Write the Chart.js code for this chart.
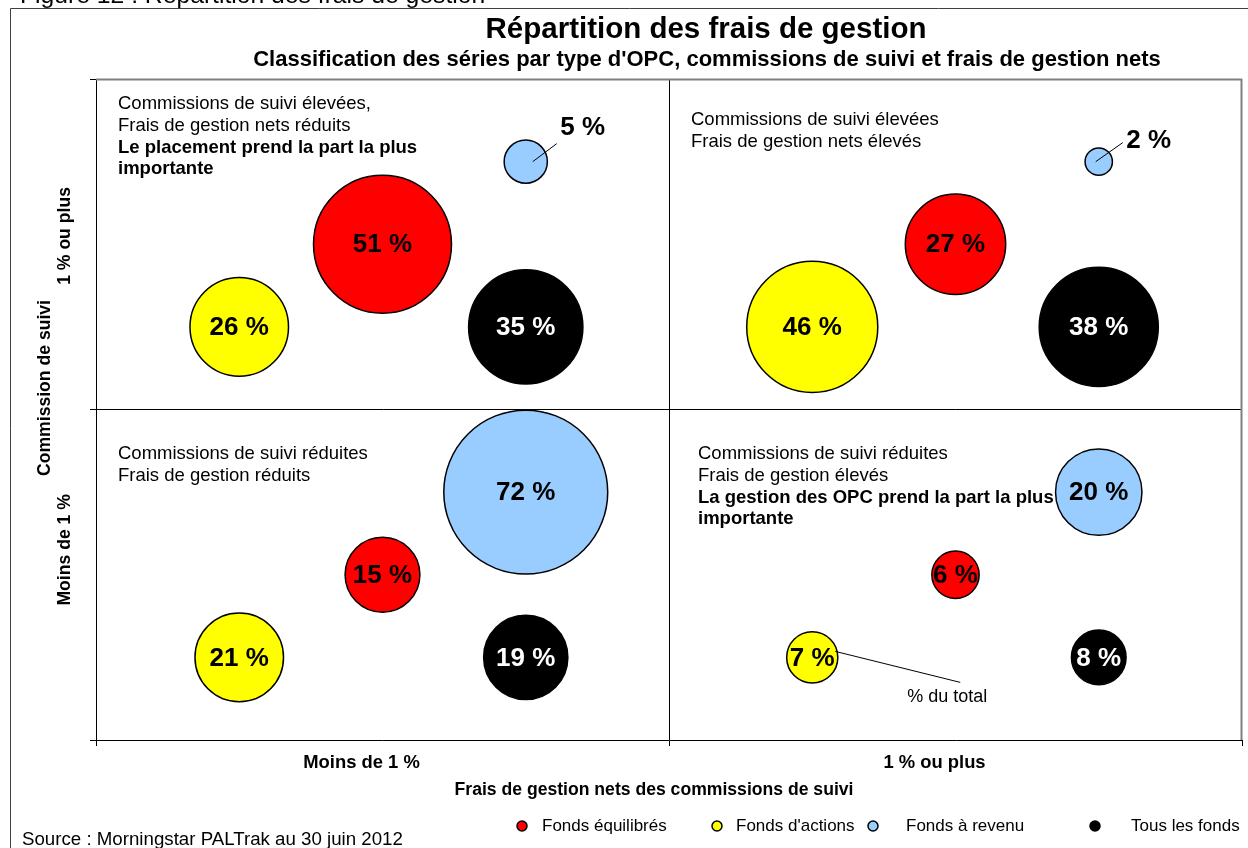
<!DOCTYPE html>
<html>
<head>
<meta charset="utf-8">
<script src="https://cdn.jsdelivr.net/npm/chart.js@4/dist/chart.umd.min.js"></script>
<style>
  html, body { margin: 0; padding: 0; background: #fff; overflow: hidden; }
  canvas { display: block; }
</style>
</head>
<body>
<canvas id="c" width="1248" height="848"></canvas>
<script>
// ---------------- DATA ----------------
// x : Frais de gestion nets des commissions de suivi ; y : Commission de suivi
const feeCategories = ['Moins de 1 %', '1 % ou plus'];       // x-axis tick labels
const trailerCategories = ['Moins de 1 %', '1 % ou plus'];   // y-axis tick labels
// quadrant cells : [haut-gauche, haut-droite, bas-gauche, bas-droite]
const cellFee     = [0, 1, 0, 1];
const cellTrailer = [1, 1, 0, 0];
const seriesNames = ['Fonds équilibrés', "Fonds d'actions", 'Fonds à revenu', 'Tous les fonds'];
const fondsEquilibres = [51, 27, 15, 6];
const fondsActions    = [26, 46, 21, 7];
const fondsRevenu     = [5, 2, 72, 20];
const tousLesFonds    = [35, 38, 19, 8];
const quadrantTexts = [
  { lines: ['Commissions de suivi élevées,', 'Frais de gestion nets réduits'], bold: ['Le placement prend la part la plus', 'importante'] },
  { lines: ['Commissions de suivi élevées', 'Frais de gestion nets élevés'], bold: [] },
  { lines: ['Commissions de suivi réduites', 'Frais de gestion réduits'], bold: [] },
  { lines: ['Commissions de suivi réduites', 'Frais de gestion élevés'], bold: ['La gestion des OPC prend la part la plus', 'importante'] }
];

// ---------------- STYLE / LAYOUT ----------------
const FONT = "'Liberation Sans', Arial, sans-serif";
const K = 9.66;                         // bubble radius = K * sqrt(%)
const seriesColors = ['#FF0000', '#FFFF00', '#99CCFF', '#000000'];
const labelColors  = ['#000', '#000', '#000', '#fff'];
const cellOffsets  = [[0.5, 0.5], [0.25, 0.25], [0.75, 0.75], [0.75, 0.25]];
const yLabelAnchors = [0.744, 1.673];

const seriesValues = [fondsEquilibres, fondsActions, fondsRevenu, tousLesFonds];

function points(values, off) {
  return values.map((v, i) => ({
    x: cellFee[i] + off[0],
    y: cellTrailer[i] + off[1],
    r: K * Math.sqrt(v),
    v: v
  }));
}

const datasets = seriesValues.map((vals, s) => ({
  label: seriesNames[s],
  data: points(vals, cellOffsets[s]),
  backgroundColor: seriesColors[s],
  borderColor: '#000',
  borderWidth: 1.5
}));

function txt(ctx, s, x, y, font, color, align, base) {
  ctx.font = font;
  ctx.fillStyle = color || '#000';
  ctx.textAlign = align || 'left';
  ctx.textBaseline = base || 'middle';
  ctx.fillText(s, x, y);
}
function line(ctx, x1, y1, x2, y2, color, w) {
  ctx.beginPath();
  ctx.strokeStyle = color; ctx.lineWidth = w;
  ctx.moveTo(x1, y1); ctx.lineTo(x2, y2); ctx.stroke();
}

const overlay = {
  id: 'overlay',
  beforeDraw(chart) {
    const ctx = chart.ctx;
    ctx.save();
    ctx.fillStyle = '#fff';
    ctx.fillRect(0, 0, chart.width, chart.height);
    txt(ctx, 'Figure 12 : Répartition des frais de gestion', 20, 3, '24.7px ' + FONT, '#000', 'left', 'alphabetic');
    line(ctx, 10.5, 8.5, 1248, 8.5, '#404040', 1);
    line(ctx, 10.5, 8.5, 10.5, 848, '#404040', 1);
    ctx.restore();
  },
  beforeDatasetsDraw(chart) {
    const ctx = chart.ctx, a = chart.chartArea;
    ctx.save();
    line(ctx, a.left, a.top + 0.5, a.right, a.top + 0.5, '#808080', 2);
    line(ctx, a.right - 0.5, a.top, a.right - 0.5, a.bottom, '#808080', 2);
    ctx.restore();
  },
  afterDatasetsDraw(chart) {
    const ctx = chart.ctx;
    ctx.save();
    const bf = 'bold 26px ' + FONT;
    chart.data.datasets.forEach((ds, s) => {
      const meta = chart.getDatasetMeta(s);
      meta.data.forEach((el, i) => {
        const v = ds.data[i].v;
        const label = v + ' %';
        if (s === 2 && (i === 0 || i === 1)) {
          // small bubbles : label outside with leader line
          if (i === 0) {
            line(ctx, el.x + 7, el.y, el.x + 31, el.y - 18, '#000', 1);
            txt(ctx, label, el.x + 57, el.y - 34, bf, '#000', 'center');
          } else {
            line(ctx, el.x - 3, el.y, el.x + 24, el.y - 19, '#000', 1);
            txt(ctx, label, el.x + 50, el.y - 21, bf, '#000', 'center');
          }
        } else {
          txt(ctx, label, el.x, el.y + 1, bf, labelColors[s], 'center');
        }
        if (s === 1 && i === 3) {
          line(ctx, el.x + 23, el.y - 6, el.x + 148, el.y + 25, '#000', 1);
          txt(ctx, '% du total', el.x + 135, el.y + 40, '18px ' + FONT, '#000', 'center');
        }
      });
    });
    ctx.restore();
  },
  afterDraw(chart) {
    const ctx = chart.ctx, a = chart.chartArea;
    const xs = chart.scales.x, ys = chart.scales.y;
    const midX = xs.getPixelForValue(1), midY = ys.getPixelForValue(1);
    ctx.save();
    // titles
    txt(ctx, 'Répartition des frais de gestion', 706, 30, 'bold 29.5px ' + FONT, '#000', 'center');
    txt(ctx, "Classification des séries par type d'OPC, commissions de suivi et frais de gestion nets", 707, 60, 'bold 22px ' + FONT, '#000', 'center');
    // quadrant texts
    const qpos = [
      [a.left + 22, a.top + 25],
      [midX + 22, a.top + 41],
      [a.left + 22, midY + 44],
      [midX + 29, midY + 44]
    ];
    quadrantTexts.forEach((q, k) => {
      let [x, y] = qpos[k];
      q.lines.forEach(l => { txt(ctx, l, x, y, '18.5px ' + FONT, '#000'); y += 22; });
      q.bold.forEach(l => { txt(ctx, l, x, y, 'bold 18.5px ' + FONT, '#000'); y += 21; });
    });
    // axis titles
    txt(ctx, 'Frais de gestion nets des commissions de suivi', 654, 790, 'bold 17.6px ' + FONT, '#000', 'center');
    ctx.save();
    ctx.translate(45, 388);
    ctx.rotate(-Math.PI / 2);
    txt(ctx, 'Commission de suivi', 0, 0, 'bold 17.6px ' + FONT, '#000', 'center');
    ctx.restore();
    // legend
    const legX = [522, 717, 873, 1095];
    const legT = [542, 736, 906, 1131];
    chart.data.datasets.forEach((ds, s) => {
      ctx.beginPath();
      ctx.arc(legX[s], 826, 5, 0, Math.PI * 2);
      ctx.fillStyle = ds.backgroundColor; ctx.fill();
      ctx.lineWidth = 1.5; ctx.strokeStyle = '#000'; ctx.stroke();
      txt(ctx, ds.label, legT[s], 826, '17px ' + FONT, '#000');
    });
    // source
    txt(ctx, 'Source : Morningstar PALTrak au 30 juin 2012', 22, 840, '18.7px ' + FONT, '#000');
    ctx.restore();
  }
};

const isInt = v => Math.abs(v - Math.round(v)) < 1e-9;

new Chart(document.getElementById('c'), {
  type: 'bubble',
  data: { datasets: datasets },
  plugins: [overlay],
  options: {
    responsive: false,
    animation: false,
    devicePixelRatio: 1,
    events: [],
    layout: { autoPadding: false, padding: { left: 0, top: 79, right: 3, bottom: 48 } },
    plugins: { legend: { display: false }, title: { display: false }, tooltip: { enabled: false } },
    scales: {
      x: {
        type: 'linear', min: 0, max: 2, position: 'bottom',
        afterBuildTicks: s => { s.ticks = [0, 0.5, 1, 1.5, 2].map(v => ({ value: v })); },
        afterFit: s => { s.height = 60; },
        grid: {
          color: c => (c.tick && c.tick.value === 1) ? '#000' : 'rgba(0,0,0,0)',
          tickColor: c => (c.tick && isInt(c.tick.value)) ? '#000' : 'rgba(0,0,0,0)',
          tickLength: 6, lineWidth: 1
        },
        border: { display: true, color: '#000', width: 1 },
        ticks: {
          autoSkip: false, minRotation: 0, maxRotation: 0, labelOffset: -21, padding: 6,
          color: '#000', font: { family: FONT, size: 18.4, weight: 'bold' },
          callback: v => v === 0.5 ? feeCategories[0] : (v === 1.5 ? feeCategories[1] : '')
        }
      },
      y: {
        type: 'linear', min: 0, max: 2, position: 'left',
        afterBuildTicks: s => { s.ticks = [0, yLabelAnchors[0], 1, yLabelAnchors[1], 2].map(v => ({ value: v })); },
        afterFit: s => { s.width = 96; },
        grid: {
          color: c => (c.tick && c.tick.value === 1) ? '#000' : 'rgba(0,0,0,0)',
          tickColor: c => (c.tick && isInt(c.tick.value)) ? '#000' : 'rgba(0,0,0,0)',
          tickLength: 6, lineWidth: 1
        },
        border: { display: true, color: '#000', width: 1 },
        ticks: {
          autoSkip: false, minRotation: 90, maxRotation: 90, padding: 25,
          color: '#000', font: { family: FONT, size: 17.6, weight: 'bold' },
          callback: v => v === yLabelAnchors[0] ? trailerCategories[0] : (v === yLabelAnchors[1] ? trailerCategories[1] : '')
        }
      }
    }
  }
});
</script>
</body>
</html>
